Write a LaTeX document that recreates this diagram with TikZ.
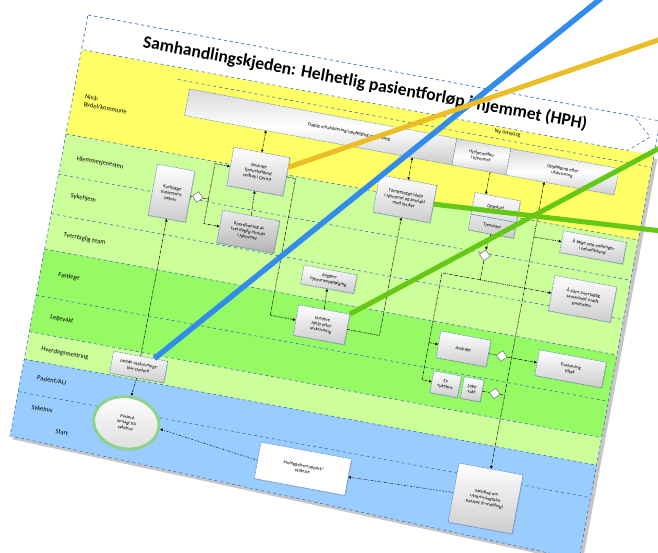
\documentclass[tikz,border=0pt]{standalone}
\usepackage{fontspec}
\setmainfont{Carlito}
\usetikzlibrary{arrows.meta,shadows,shapes.geometric,calc}
\definecolor{ylw}{RGB}{255,255,102}
\definecolor{lgr}{RGB}{204,255,153}
\definecolor{mgr}{RGB}{150,250,100}
\definecolor{lbl}{RGB}{153,204,255}
\definecolor{sep}{RGB}{60,110,190}
\definecolor{ovblue}{RGB}{50,140,235}
\definecolor{ovyel}{RGB}{235,190,40}
\definecolor{ovgrn}{RGB}{100,200,20}
\definecolor{glow}{RGB}{140,210,140}
\tikzset{
 tipA/.tip={Triangle[length=2.6pt,width=2.6pt]},
 sepline/.style={draw=sep, line width=0.6pt, dash pattern=on 3pt off 3pt},
 lanelbl/.style={anchor=west, font=\fontsize{6.5}{7.5}\selectfont, inner sep=0pt},
 box/.style={draw=sep, line width=0.45pt, dash pattern=on 1.5pt off 1pt, top color=white, bottom color=gray!40, align=center, font=\fontsize{4.8}{5.6}\selectfont, inner sep=1pt, drop shadow={shadow xshift=0.8pt, shadow yshift=-0.8pt, opacity=0.35}},
 darkbox/.style={box, top color=gray!15, bottom color=gray!60},
 gw/.style={diamond, draw=gray!70!black, line width=0.4pt, fill=white, minimum size=11pt, inner sep=0pt},
 conn/.style={draw=black, line width=0.5pt, dash pattern=on 3pt off 1pt on 0.8pt off 1pt, -tipA},
 conn2/.style={conn, line width=0.4pt, dash pattern=on 1pt off 1.5pt on 2.5pt off 1.5pt},
 bandseg/.style={draw=sep, line width=0.4pt, dash pattern=on 1.5pt off 1pt, top color=gray!30, bottom color=gray!40, middle color=white, inner sep=0pt, anchor=north west},
 bandtxt/.style={font=\fontsize{4.8}{5.5}\selectfont, align=center, inner sep=0pt},
 ov/.style={line width=5pt},
}
\begin{document}
\begin{tikzpicture}[x=1pt,y=1pt]
\useasboundingbox (0,0) rectangle (658,552);
\fill[white] (0,0) rectangle (658,552);
\begin{scope}[shift={(88,537)}, rotate=-10.5, x=1pt, y=-1pt, every node/.append style={transform shape}]
% page shadow and lanes
\fill[gray!45] (3,38) -- (586,38) -- (586,449) -- (3,431) -- cycle;
\fill[white] (0,0) rectangle (582,35);
\fill[ylw] (0,35) rectangle (582,121);
\fill[lgr] (0,121) rectangle (582,238);
\fill[mgr] (0,238) rectangle (582,322);
\fill[lgr] (0,322) rectangle (582,350);
\fill[lbl] (0,350) -- (582,350) -- (582,446) -- (0,428) -- cycle;
\foreach \yy in {121,162,202,238,285,322,350,383} \draw[sepline] (0,\yy) -- (582,\yy);
\draw[sepline] (100,47) -- (582,47);
\draw[sepline] (0,0) -- (582,0) -- (582,446) -- (0,428) -- cycle;
\draw[sepline, fill=white] (0,0) -- (555,0) -- (575,17.5) -- (555,35) -- (0,35) -- cycle;
\node[font=\fontsize{17.5}{19}\selectfont\bfseries, inner sep=0pt] (title) at (285,17) {Samhandlingskjeden: Helhetlig pasientforløp i hjemmet (HPH)};
% lane labels
\node[lanelbl, align=left] (lyel) at (12,85) {Nivå:\\Bydel/kommune};
\node[lanelbl] (l1) at (15,143) {Hjemmetjenesten};
\node[lanelbl] (l2) at (16,181) {Sykehjem};
\node[lanelbl] (l3) at (16,221) {Tverrfaglig team};
\node[lanelbl] (l4) at (18,261) {Fastlege};
\node[lanelbl] (l5) at (18,304) {Legevakt};
\node[lanelbl] (l6) at (15,337) {Hverdagsmestring};
\node[lanelbl] (l7) at (16,366) {Pasient/AU};
\node[lanelbl] (l8) at (16,396) {Sykehus};
\node[lanelbl] (l9) at (44,415) {Start};
\node[bandtxt, font=\fontsize{6}{7}\selectfont] (nyom) at (434,40) {Ny omsorg};
% band
\node[bandseg, minimum width=272pt, minimum height=27pt] (s1) at (113,54) {};
\node[bandseg, minimum width=55pt, minimum height=27pt] (s2) at (385,54) {};
\node[bandseg, minimum width=110pt, minimum height=27pt] (s3) at (440,54) {};
\node[bandtxt] (s1t) at (278,67.5) {Daglig rehabilitering/oppfølging og omsorg};
\node[bandtxt] (s2t) at (412.5,67.5) {Hjelpemidler\\i hjemmet};
\node[bandtxt] (s3t) at (495,67.5) {Oppfølging etter\\utskrivning};
\coordinate (b1) at (196,81);
\coordinate (b2) at (345,81);
\coordinate (b3) at (424,81);
\coordinate (b4) at (479,81);
% boxes
\node[box, minimum width=38pt, minimum height=52pt] (A) at (114.5,160) {Kartlegge\\pasientens\\behov};
\node[gw] (gwA) at (141,159) {};
\node[box, minimum width=57pt, minimum height=39pt] (B) at (196,123) {Beslutte\\tjenestetilbud\\vedtak i Gerica};
\node[darkbox, minimum width=58pt, minimum height=33pt] (C) at (197,184) {Koordinering av\\tverrfaglig innsats\\i hjemmet};
\node[box, minimum width=58pt, minimum height=38pt] (D) at (345,123) {Tilrettelegge hjelp\\i hjemmet og kontakt\\med bruker};
\node[box, minimum width=46pt, minimum height=38pt] (E) at (436,123) {};
\draw[draw=sep, line width=0.4pt] ($(E.west)+(0pt,-3pt)$) -- ($(E.east)+(0pt,-3pt)$);
\node[bandtxt] (Et1) at (436,115) {Oppstart};
\node[bandtxt] (Et2) at (436,134) {Tjenester};
\node[gw] (gw2) at (434,164) {};
\node[box, minimum width=64pt, minimum height=22pt] (F) at (539,136.5) {Å følge opp endringer\\i helsetilstand};
\node[box, minimum width=63pt, minimum height=36pt] (G) at (538,189) {Å sikre tverrfaglig\\samarbeid rundt\\pasienten};
\node[box, minimum width=54pt, minimum height=19pt] (O) at (285,216) {Avgjøre\\hjemmeoppfølging};
\node[box, minimum width=52pt, minimum height=31pt] (P) at (286,262) {Vurdere\\hjelp etter\\utskrivning};
\node[box, minimum width=51pt, minimum height=27pt] (H) at (430,260) {Avslutte};
\node[gw] (gw3) at (469,260) {};
\node[box, minimum width=68pt, minimum height=26pt] (I) at (539,260) {Evaluering\\tiltak};
\node[box, minimum width=28pt, minimum height=22pt] (J1) at (419,298) {Ev.\\sykehus};
\node[box, minimum width=20pt, minimum height=22pt] (J2) at (446,298) {Lege-\\vakt};
\node[gw] (gw4) at (469,298) {};
\node[box, minimum width=55pt, minimum height=22pt] (K) at (114,337) {Melde utskrivnings-\\klar pasient};
\node[ellipse, draw=glow, line width=3pt, top color=white, bottom color=gray!25, minimum width=66pt, minimum height=52pt, align=center, font=\fontsize{4.8}{5.6}\selectfont, inner sep=0pt] (L) at (112,394) {Pasient\\innlagt på\\sykehus};
\node[box, top color=white, bottom color=white, minimum width=92pt, minimum height=37pt] (M) at (294,407) {Innleggelsesrapport/\\epikrise};
\node[box, minimum width=65pt, minimum height=60pt] (N) at (479,403) {Melding om\\utskrivningsklar\\pasient (e-melding)};
% connectors
\draw[conn] (K.north) -- (A.south);
\draw[conn] (K.south) -- (L.north);
\draw[conn, -] (A.east) -- (gwA.west);
\draw[conn] (gwA.east) -- (152,159) -- (152,123) -- (B.west);
\draw[conn] (152,159) -- (152,184) -- (C.west);
\draw[conn] (C.north) -- (B.south);
\draw[conn, tipA-tipA] (b1) -- (B.north);
\draw[conn] (B.east) -- (234,123) -- (234,262) -- (P.west);
\draw[conn] (P.north) -- (O.south);
\draw[conn] (P.east) -- (345,262) -- (D.south);
\draw[conn, tipA-tipA] (b2) -- (D.north);
\draw[conn] (b3) -- ($(E.north west)!0.24!(E.north east)$);
\draw[conn] (E.south) -- (gw2.north);
\draw[conn] (gw2.south) -- (434,189) -- (G.west);
\draw[conn] (434,189) -- (395,189) -- (395,260) -- (H.west);
\draw[conn] (395,260) -- (395,298) -- (J1.west);
\draw[conn, -] (H.east) -- (gw3.west);
\draw[conn] (gw3.east) -- (I.west);
\draw[conn, -] (J2.east) -- (gw4.west);
\draw[conn, tipA-] (b4) -- (479,298);
\draw[conn] (479,137) -- (F.west);
\draw[conn] (gw4.east) -- (479,298) -- (N.north);
\draw[conn2] (N.west) -- (M.east);
\draw[conn2] (M.west) -- (L.east);
\end{scope}
% overlay strokes
\coordinate (blueEnd) at (604,556);
\coordinate (yelEnd) at (670,516);
\coordinate (grnEndA) at (670,320);
\coordinate (grnEndB) at (670,409.5);
\draw[ov, ovblue, line width=5.5pt] ($(K.north)!0.5!(K.north east)$) -- (blueEnd);
\draw[ov, ovyel] ($(B.east)!0.5!(B.north east)$) -- (yelEnd);
\draw[ov, ovgrn] (D.east) -- (grnEndA);
\draw[ov, ovgrn] (P.north east) -- (grnEndB);
\end{tikzpicture}
\end{document}
